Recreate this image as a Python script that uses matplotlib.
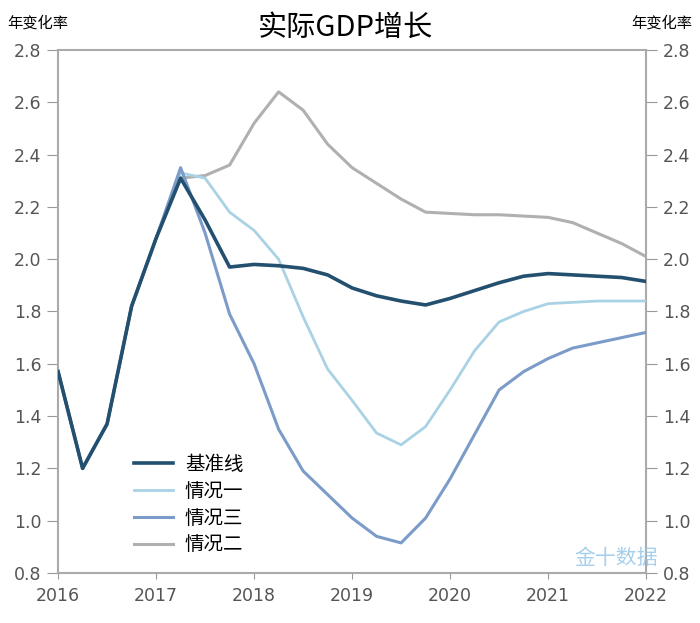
import numpy as np
import matplotlib.pyplot as plt

plt.rcParams['font.family'] = ['Noto Sans CJK SC', 'DejaVu Sans']

# quarterly, 2016Q1 .. 2022Q1
quarters = np.arange(2016, 2022.01, 0.25)
early = [1.57, 1.20, 1.37, 1.82, 2.08]
baseline = early + [2.31, 2.15, 1.97, 1.98, 1.975, 1.965, 1.94, 1.89, 1.86, 1.84, 1.825,
                    1.85, 1.88, 1.91, 1.935, 1.945, 1.94, 1.935, 1.93, 1.915]
case1 = early + [2.33, 2.31, 2.18, 2.11, 2.00, 1.78, 1.58, 1.46, 1.335, 1.29, 1.36,
                 1.50, 1.65, 1.76, 1.80, 1.83, 1.835, 1.84, 1.84, 1.84]
case3 = early + [2.35, 2.10, 1.79, 1.60, 1.35, 1.19, 1.10, 1.01, 0.94, 0.915, 1.01,
                 1.16, 1.33, 1.50, 1.57, 1.62, 1.66, 1.68, 1.70, 1.72]
case2 = early + [2.31, 2.32, 2.36, 2.52, 2.64, 2.57, 2.44, 2.35, 2.29, 2.23, 2.18,
                 2.175, 2.17, 2.17, 2.165, 2.16, 2.14, 2.10, 2.06, 2.01]
years = [2016, 2017, 2018, 2019, 2020, 2021, 2022]
yticks = [0.8, 1.0, 1.2, 1.4, 1.6, 1.8, 2.0, 2.2, 2.4, 2.6, 2.8]

fig = plt.figure(figsize=(7, 6.23), dpi=100)
ax = fig.add_axes([0.083, 0.0803, 0.840, 0.8394])

ax.plot(quarters, baseline, color="#23506f", lw=2.6, label="基准线", zorder=5)
ax.plot(quarters, case1, color="#a9d2e4", lw=2.0, label="情况一", zorder=3)
ax.plot(quarters, case3, color="#7b9bc8", lw=2.2, label="情况三", zorder=4)
ax.plot(quarters, case2, color="#b0b0b0", lw=2.2, label="情况二", zorder=2)

ax.set_xlim(2016, 2022)
ax.set_ylim(0.8, 2.8)
ax.set_xticks(years)
ax.set_yticks(yticks)
ax.set_yticklabels(["{:.1f}".format(v) for v in yticks])
ax.tick_params(axis="y", which="both", direction="out", length=8, color="#999999",
               labelsize=12.5, labelcolor="#555555", right=True, labelright=True, pad=4)
ax.tick_params(axis="x", direction="out", length=4, color="#999999",
               labelsize=12.5, labelcolor="#555555", pad=6)
for lab in ax.get_xticklabels() + ax.get_yticklabels():
    lab.set_family("DejaVu Sans")
for s in ax.spines.values():
    s.set_color("#aaaaaa")
    s.set_linewidth(1.5)

leg = ax.legend(loc="lower left", bbox_to_anchor=(0.1, 0.0), frameon=False,
                fontsize=14, handlelength=2.0, handletextpad=0.6, labelspacing=0.3)

fig.text(0.493, 0.955, "实际GDP增长", ha="center", va="center", fontsize=21)
fig.text(0.011, 0.963, "年变化率", ha="left", va="center", fontsize=11)
fig.text(0.989, 0.963, "年变化率", ha="right", va="center", fontsize=11)

# watermark
fig.text(0.94, 0.105, "金十数据", ha="right", va="center", fontsize=15, color="#8fc3e8", alpha=0.8)

plt.savefig("out.png", dpi=100)
